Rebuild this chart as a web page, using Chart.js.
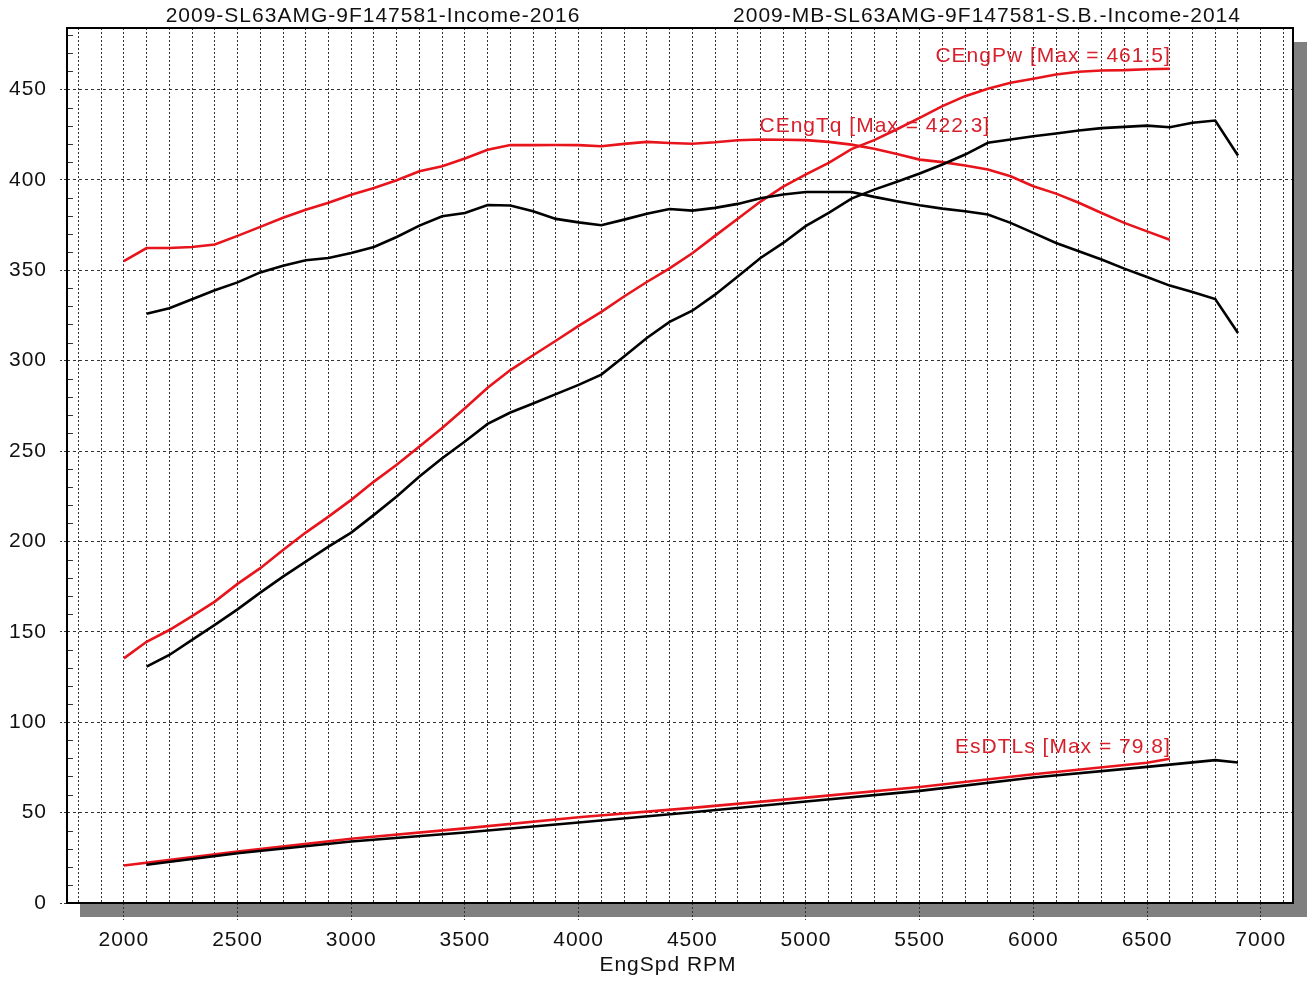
<!DOCTYPE html>
<html>
<head>
<meta charset="utf-8">
<script src="https://cdn.jsdelivr.net/npm/chart.js@4.4.1/dist/chart.umd.min.js"></script>
<style>
  html, body { margin:0; padding:0; background:#fff; }
  #wrap { position:relative; width:1314px; height:982px; }
</style>
</head>
<body>
<div id="wrap"><canvas id="dyno"></canvas></div>
<script>
// run 2016 (red) and run 2014 (black), engine speed in RPM
const RPM_2016 = [2000,2100,2200,2300,2400,2500,2600,2700,2800,2900,3000,3100,3200,3300,3400,3500,3600,3700,3800,3900,
  4000,4100,4200,4300,4400,4500,4600,4700,4800,4900,5000,5100,5200,5300,5400,5500,5600,5700,5800,5900,
  6000,6100,6200,6300,6400,6500,6600]
const TQ_2016 = [355,362.3,362.3,362.9,364.2,369,374,379,383.5,387.3,391.8,395.5,399.8,404.8,407.5,411.8,416.6,419.3,419.2,419.3,
  419.2,418.6,419.9,421,420.4,420,420.8,421.9,422.3,422.2,422,421,419.5,417.2,414.3,411.2,409.8,407.9,405.7,402,
  396.5,392.4,387.3,381.7,376.2,371.5,366.9]
const PW_2016 = [135.3,144.5,151,158.7,166.7,176.5,185.2,195.3,204.9,213.7,223,233.1,242.4,252.5,262.7,273.7,285,294.8,303,311,
  319.2,327,335.5,343.5,351,359.4,369,378.5,388,396.3,403,409.4,417,422,428,434.3,440.8,446.3,450.4,453.7,
  455.9,458.3,459.8,460.5,460.7,461.2,461.5]
const LOSS_RPM_2016 = [2000,2500,3000,3500,4000,4500,5000,5500,6000,6500,6600]
const LOSS_2016     = [20.7,28.4,35.5,41.3,47.4,52.6,58.3,64.2,71.2,77.6,79.8]

const RPM_2014 = [2100,2200,2300,2400,2500,2600,2700,2800,2900,3000,3100,3200,3300,3400,3500,3600,3700,3800,3900,
  4000,4100,4200,4300,4400,4500,4600,4700,4800,4900,5000,5100,5200,5300,5400,5500,5600,5700,5800,5900,
  6000,6100,6200,6300,6400,6500,6600,6700,6800,6900]
const TQ_2014 = [326,329,334,338.9,343.3,348.8,352.5,355.5,356.8,359.6,362.9,368.4,374.7,379.9,381.7,386.1,385.8,382.6,378.4,
  376.5,374.9,378,381.2,383.9,383,384.5,386.7,389.8,391.9,393.3,393.3,393.3,390.6,388.2,386,384.1,382.6,380.8,376.2,
  370.7,365.1,360.5,355.9,350.9,346.3,341.5,338,334.1,315.3]
const PW_2014 = [130.7,137.2,145.5,153.8,162.4,171.7,180.5,188.8,197.1,204.9,214.7,224.8,235.9,246,255.3,265,271.3,276.3,281.5,
  286.6,292.3,302.3,312.5,321.4,327.6,336.5,346.6,356.8,365.1,374.5,381.7,389.6,394.6,399,403.5,408.5,414,420.5,422.3,
  424.1,425.6,427.3,428.6,429.3,430,429.1,431.6,432.8,413.5]
const LOSS_RPM_2014 = [2100,2500,3000,3500,4000,4500,5000,5500,6000,6500,6800,6900]
const LOSS_2014     = [21.2,27.5,34,39,44.5,50.2,56.1,62,69.4,75.3,79,77.7]

const X_LABELS = [2000,2500,3000,3500,4000,4500,5000,5500,6000,6500,7000]
const Y_LABELS = [0,50,100,150,200,250,300,350,400,450]
const TITLES = ['2009-SL63AMG-9F147581-Income-2016', '2009-MB-SL63AMG-9F147581-S.B.-Income-2014']
const X_TITLE = 'EngSpd RPM'

const RED = '#e8141c'
const RED_TXT = '#d8202c'
const FONT = 'Arial, "Liberation Sans", sans-serif'
const SPACING = '1px'

// dotted vertical grid every 100 rpm
const X_GRID = []
for (let v = 1800; v <= 7100; v += 100) X_GRID.push(v)

const pts = (xs, ys) => xs.map((x, i) => ({ x, y: ys[i] }))
const line = (label, data, color) => ({
  label, data, borderColor: color, borderWidth: 2.6, pointRadius: 0, tension: 0, fill: false,
})

const dynoFrame = {
  id: 'dynoFrame',
  beforeInit(chart) { chart.ctx.letterSpacing = SPACING },
  beforeUpdate(chart) { chart.ctx.letterSpacing = SPACING },
  beforeDraw(chart) {
    const { ctx, chartArea: a } = chart
    ctx.letterSpacing = SPACING
    ctx.save()
    ctx.fillStyle = '#fff'
    ctx.fillRect(0, 0, chart.width, chart.height)
    ctx.fillStyle = '#808080'
    ctx.fillRect(a.left + 13, a.top + 14, a.right - a.left + 1, a.bottom - a.top)
    ctx.fillStyle = '#fff'
    ctx.fillRect(a.left, a.top, a.right - a.left, a.bottom - a.top)
    ctx.restore()
  },
  afterDatasetsDraw(chart) {
    const { ctx, chartArea: a, scales: { x, y } } = chart
    ctx.save()
    // minor y ticks every 10
    ctx.strokeStyle = '#333'
    ctx.lineWidth = 1
    for (let v = 10; v < y.max; v += 10) {
      if (v % 50 === 0) continue
      const py = Math.round(y.getPixelForValue(v)) + 0.5
      ctx.beginPath(); ctx.moveTo(a.left, py); ctx.lineTo(a.left + 6, py); ctx.stroke()
    }
    // frame
    ctx.strokeStyle = '#000'
    ctx.lineWidth = 2
    ctx.strokeRect(a.left, a.top, a.right - a.left, a.bottom - a.top)

    // max labels
    ctx.font = '21px ' + FONT
    ctx.letterSpacing = SPACING
    ctx.fillStyle = RED_TXT
    ctx.textBaseline = 'middle'
    const pwMax = Math.max(...PW_2016), tqMax = Math.max(...TQ_2016), lsMax = Math.max(...LOSS_2016)
    ctx.textAlign = 'right'
    ctx.fillText(`CEngPw [Max = ${pwMax.toFixed(1)}]`, x.getPixelForValue(6600) + 1, y.getPixelForValue(pwMax) - 12)
    ctx.fillText(`EsDTLs [Max = ${lsMax.toFixed(1)}]`, x.getPixelForValue(6600) + 1, y.getPixelForValue(lsMax) - 12)
    ctx.textAlign = 'left'
    ctx.fillText(`CEngTq [Max = ${tqMax.toFixed(1)}]`, x.getPixelForValue(4800) - 1, y.getPixelForValue(tqMax) - 13)
    ctx.restore()
  },
  afterDraw(chart) {
    const { ctx } = chart
    ctx.save()
    ctx.font = '21px ' + FONT
    ctx.letterSpacing = SPACING
    ctx.fillStyle = '#111'
    ctx.textAlign = 'center'
    ctx.textBaseline = 'middle'
    ctx.fillText(TITLES[0], 373, 16)
    ctx.fillText(TITLES[1], 987, 16)
    ctx.fillText(X_TITLE, 668, 965)
    ctx.restore()
  },
}

new Chart(document.getElementById('dyno'), {
  type: 'line',
  data: {
    datasets: [
      line('CEngTq 2014', pts(RPM_2014, TQ_2014), '#000'),
      line('CEngPw 2014', pts(RPM_2014, PW_2014), '#000'),
      line('EsDTLs 2014', pts(LOSS_RPM_2014, LOSS_2014), '#000'),
      line('CEngTq 2016', pts(RPM_2016, TQ_2016), RED),
      line('CEngPw 2016', pts(RPM_2016, PW_2016), RED),
      line('EsDTLs 2016', pts(LOSS_RPM_2016, LOSS_2016), RED),
    ],
  },
  options: {
    responsive: true, maintainAspectRatio: false, animation: false,
    layout: { padding: { top: 28, right: 21, left: 0, bottom: 0 } },
    plugins: { legend: { display: false }, tooltip: { enabled: false } },
    scales: {
      x: {
        type: 'linear', min: 1750, max: 7142,
        afterBuildTicks: s => { s.ticks = X_GRID.map(value => ({ value })) },
        afterFit: s => { s.height = 79 },
        ticks: {
          autoSkip: false, maxRotation: 0, minRotation: 0, padding: 8, color: '#111',
          font: { family: FONT, size: 21 },
          callback: v => X_LABELS.includes(v) ? String(v) : '',
        },
        grid: {
          color: '#333', lineWidth: 1, tickLength: 17, tickBorderDash: [2, 2],
          tickColor: c => c.tick && X_LABELS.includes(c.tick.value) ? '#333' : 'rgba(0,0,0,0)',
        },
        border: { display: false, dash: [2, 2] },
      },
      y: {
        type: 'linear', min: 0, max: 484,
        afterBuildTicks: s => { s.ticks = Y_LABELS.map(value => ({ value })) },
        afterFit: s => { s.width = 67 },
        ticks: {
          autoSkip: false, padding: 13, color: '#111',
          font: { family: FONT, size: 21 },
        },
        grid: { color: '#333', lineWidth: 1, tickLength: 7, tickBorderDash: [2, 2], tickColor: '#333' },
        border: { display: false, dash: [3, 3] },
      },
    },
  },
  plugins: [dynoFrame],
})
</script>
</body>
</html>
